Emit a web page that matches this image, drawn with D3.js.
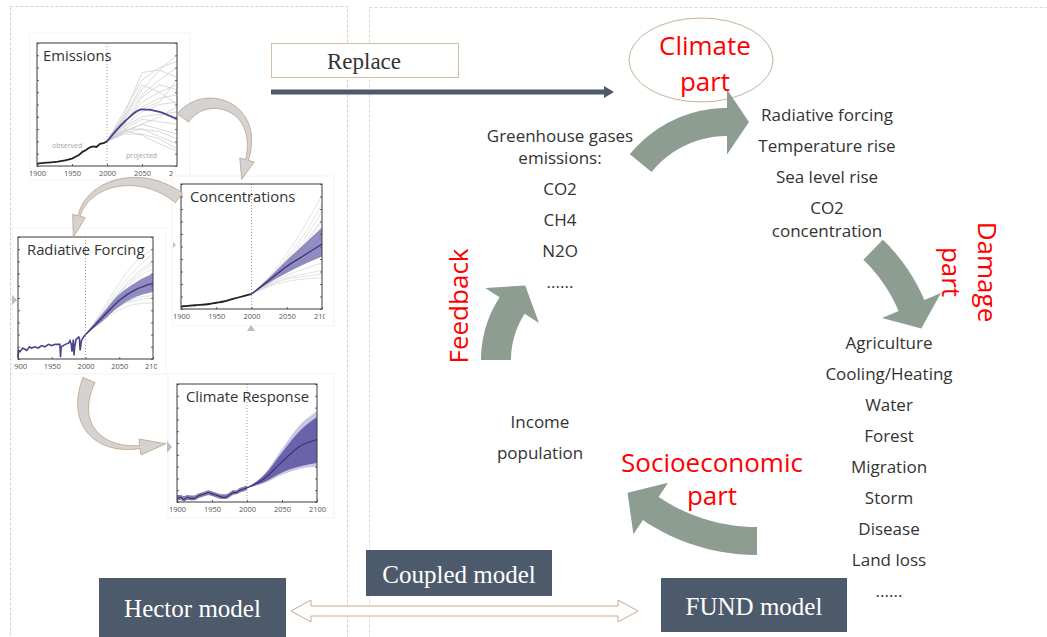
<!DOCTYPE html>
<html><head><meta charset="utf-8">
<script src="https://cdn.jsdelivr.net/npm/d3@7"></script>
<style>body{margin:0;background:#fff}svg{display:block}</style>
</head><body>
<svg id="c" width="1047" height="637"></svg>
<script>
// ---------------- DATA ----------------
const xTickVals = [1900, 1950, 2000, 2050, 2100];
const xTickLabels = ["1900", "1950", "2000", "2050", "2100"];
const projYears = [2000, 2025, 2050, 2075, 2100];

// Emissions panel (relative units 0-100)
const emObsYears = [1900, 1910, 1920, 1930, 1940, 1950, 1955, 1960, 1965, 1970, 1975, 1980, 1985, 1990, 1995, 2000];
const emObs = [2, 2.5, 3, 3.5, 4.5, 6, 7.5, 9, 11.5, 13, 15, 16, 15.5, 18, 18.5, 20];
const emMean = [20, 36, 46, 44, 38];
const emEnsemble = [
  [20, 40, 62, 78, 90], [20, 45, 70, 80, 85], [20, 42, 76, 78, 72], [20, 38, 58, 70, 80],
  [20, 35, 52, 60, 66], [20, 36, 48, 55, 58], [20, 33, 44, 50, 52], [20, 32, 40, 42, 44],
  [20, 30, 38, 36, 34], [20, 28, 34, 30, 26], [20, 30, 30, 28, 22], [20, 27, 30, 24, 18],
  [20, 26, 26, 22, 14], [20, 28, 34, 40, 48], [20, 34, 56, 66, 62], [20, 40, 66, 60, 50],
  [20, 29, 25, 18, 12], [20, 37, 46, 52, 70]
];

// Concentrations panel
const coObsYears = [1900, 1920, 1940, 1950, 1960, 1970, 1980, 1990, 2000];
const coObs = [2, 3, 4, 5, 6, 7.5, 9, 10.5, 12];
const coMean = [12, 23, 34, 43, 52];
const coLow = [12, 21, 29, 36, 42];
const coHigh = [12, 25, 39, 52, 65];
const coEnsemble = [
  [12, 26, 44, 66, 91], [12, 25, 41, 60, 84], [12, 24, 39, 56, 78], [12, 24, 37, 53, 72],
  [12, 23, 35, 49, 66], [12, 22, 33, 44, 58], [12, 22, 31, 40, 50], [12, 21, 29, 36, 43],
  [12, 20, 27, 32, 37], [12, 19, 25, 28, 31], [12, 18, 22, 24, 25], [12, 19, 24, 26, 28],
  [12, 21, 30, 38, 46], [12, 23, 36, 51, 70]
];

// Radiative forcing panel
const rfObsYears = [1900, 1901, 1903, 1907, 1910, 1913, 1917, 1920, 1925, 1930, 1935, 1940, 1945, 1950, 1955, 1960, 1962, 1963, 1964, 1967, 1970, 1975, 1977, 1979, 1980, 1982, 1983, 1984, 1986, 1990, 1991, 1992, 1994, 1997, 2000];
const rfObs = [1, 7, 6, 9, 8, 7, 10, 9, 10, 9, 11, 10, 12, 11, 12, 12, 12, 1.5, 10, 11, 12, 13, 15, 12, 6, 16, 3, 10, 16, 18, 17, 7, 15, 18, 20];
const rfMean = [20, 34, 48, 57, 62];
const rfLow = [20, 31, 43, 51, 55];
const rfHigh = [20, 37, 53, 63, 70];
const rfEnsemble = [
  [20, 40, 62, 80, 90], [20, 38, 58, 74, 86], [20, 37, 55, 70, 80], [20, 36, 53, 66, 74],
  [20, 35, 51, 62, 70], [20, 34, 49, 58, 64], [20, 33, 46, 54, 58], [20, 32, 43, 50, 52],
  [20, 31, 40, 45, 46], [20, 33, 44, 48, 50], [20, 36, 54, 68, 78], [20, 35, 50, 60, 67]
];

// Climate response panel
const crObsYears = [1900, 1905, 1910, 1915, 1920, 1925, 1930, 1935, 1940, 1945, 1950, 1955, 1960, 1965, 1970, 1975, 1980, 1985, 1990, 1995, 2000];
const crObs = [3, 4, 2, 4, 3, 3, 5, 6, 7, 8, 7, 6, 5, 4, 4, 6, 8, 8, 10, 11, 12];
const crObsLow = [1, 2, 0.5, 2, 1.5, 1.5, 3, 4, 5, 6, 5, 4, 3, 2.5, 2.5, 4, 6, 6.5, 8, 9, 10];
const crObsHigh = [6, 6, 5, 6, 5.5, 5.5, 7, 8, 9, 10, 9, 8, 7, 6.5, 6.5, 8, 10, 10, 12, 13, 14];
const crMean = [12, 20, 34, 47, 53];
const crLow = [12, 17, 25, 30, 33];
const crHigh = [12, 23, 42, 60, 72];
const crOuterLow = [12, 16, 23, 28, 30];
const crOuterHigh = [12, 24, 45, 65, 77];

// Diagram texts
const ghgLines = ["Greenhouse gases", "emissions:", "CO2", "CH4", "N2O", "......"];
const climateVars = ["Radiative forcing", "Temperature rise", "Sea level rise", "CO2", "concentration"];
const damageSectors = ["Agriculture", "Cooling/Heating", "Water", "Forest", "Migration", "Storm", "Disease", "Land loss", "......"];
const socioVars = ["Income", "population"];

// ---------------- DRAW ----------------
const svg = d3.select("#c");
const defs = svg.append("defs");
const SANS = "'Open Sans', Lato, sans-serif";
const SERIF = "'Liberation Serif', 'DejaVu Serif', serif";
const ARROW_GREEN = "#8d9d92";
const SLATE = "#4c5a6b";

// dashed panels
svg.append("rect").attr("x", 10.5).attr("y", 6.5).attr("width", 337).attr("height", 640)
  .attr("fill", "none").attr("stroke", "#e3cdb6").attr("stroke-dasharray", "3,2");
svg.append("rect").attr("x", 369.5).attr("y", 7.5).attr("width", 700).attr("height", 640)
  .attr("fill", "none").attr("stroke", "#d9d9d9").attr("stroke-dasharray", "3,2");

let clipId = 0;
function panel(cfg) {
  const g = svg.append("g");
  g.append("rect").attr("x", cfg.bg[0]).attr("y", cfg.bg[1]).attr("width", cfg.bg[2] - cfg.bg[0])
    .attr("height", cfg.bg[3] - cfg.bg[1]).attr("fill", "#fff").attr("stroke", "#f3f3f3");
  const x = d3.scaleLinear([1900, 2100], [cfg.x0, cfg.x1]);
  const y = d3.scaleLinear([0, 100], [cfg.y1, cfg.y0]);
  const id = "clip" + (clipId++);
  defs.append("clipPath").attr("id", id).append("rect")
    .attr("x", cfg.clip[0]).attr("y", cfg.y0 - 5).attr("width", cfg.clip[1] - cfg.clip[0]).attr("height", cfg.y1 - cfg.y0 + 25);
  const inner = g.append("g");
  const wrap = g.append("g").attr("clip-path", `url(#${id})`);
  const ax = wrap.append("g").attr("transform", `translate(0,${cfg.y1})`)
    .call(d3.axisBottom(x).tickValues(xTickVals).tickFormat((d, i) => xTickLabels[i]).tickSizeInner(-2).tickSizeOuter(0).tickPadding(5));
  ax.select(".domain").remove();
  ax.selectAll("line").attr("stroke", "#666");
  ax.selectAll("text").attr("font-family", SANS).attr("font-size", 7.5).attr("fill", "#555");
  const ay = g.append("g").attr("transform", `translate(${cfg.x0},0)`)
    .call(d3.axisLeft(y).ticks(10).tickSizeInner(-2).tickSizeOuter(0).tickFormat(""));
  ay.select(".domain").remove();
  ay.selectAll("line").attr("stroke", "#666");
  const ay2 = g.append("g").attr("transform", `translate(${cfg.x1},0)`)
    .call(d3.axisRight(y).ticks(10).tickSizeInner(-2).tickSizeOuter(0).tickFormat(""));
  ay2.select(".domain").remove();
  ay2.selectAll("line").attr("stroke", "#666");
  g.append("line").attr("x1", x(2000)).attr("x2", x(2000)).attr("y1", cfg.y0).attr("y2", cfg.y1)
    .attr("stroke", "#888").attr("stroke-width", 0.8).attr("stroke-dasharray", "1,2");
  return { g, inner, x, y, cfg };
}
function finishPanel(p, title, dx) {
  p.g.append("rect").attr("x", p.cfg.x0).attr("y", p.cfg.y0).attr("width", p.cfg.x1 - p.cfg.x0)
    .attr("height", p.cfg.y1 - p.cfg.y0).attr("fill", "none").attr("stroke", "#3a3a3a").attr("stroke-width", 1);
  p.g.append("text").attr("x", p.cfg.x0 + dx).attr("y", p.cfg.y0 + 18).text(title)
    .attr("font-family", SANS).attr("font-size", 14.8).attr("fill", "#333");
}
const lineOf = (p, xs, curve) => d3.line().x((d, i) => p.x(xs[i])).y(d => p.y(d)).curve(curve || d3.curveMonotoneX);
const areaOf = (p, xs, lo, hi) => d3.area().x((d, i) => p.x(xs[i])).y0((d, i) => p.y(lo[i])).y1(d => p.y(d)).curve(d3.curveMonotoneX);

// Emissions
{
  const p = panel({ x0: 37, x1: 177, y0: 43, y1: 166, clip: [30, 173], bg: [30, 33, 190, 180] });
  p.inner.selectAll(".ens").data(emEnsemble).join("path").attr("d", lineOf(p, projYears, d3.curveLinear))
    .attr("fill", "none").attr("stroke", "#c9c9c9").attr("stroke-width", 0.7);
  p.inner.append("path").datum(emMean).attr("d", lineOf(p, projYears)).attr("fill", "none").attr("stroke", "#4b4494").attr("stroke-width", 1.8);
  p.inner.append("path").datum(emObs).attr("d", lineOf(p, emObsYears, d3.curveLinear)).attr("fill", "none").attr("stroke", "#222").attr("stroke-width", 1.8);
  p.g.append("text").attr("x", 52).attr("y", 148).text("observed").attr("font-family", SANS).attr("font-size", 7).attr("fill", "#a5a5a5");
  p.g.append("text").attr("x", 126).attr("y", 158).text("projected").attr("font-family", SANS).attr("font-size", 7).attr("fill", "#a5a5a5");
  finishPanel(p, "Emissions", 6);
}
// Concentrations
{
  const p = panel({ x0: 181, x1: 322, y0: 184, y1: 309, clip: [172, 325], bg: [172, 176, 334, 326] });
  p.inner.selectAll(".ens").data(coEnsemble).join("path").attr("d", lineOf(p, projYears))
    .attr("fill", "none").attr("stroke", "#cfcfcf").attr("stroke-width", 0.6);
  p.inner.append("path").datum(coHigh).attr("d", areaOf(p, projYears, coLow, coHigh)).attr("fill", "#6e67ad").attr("opacity", 0.75);
  p.inner.append("path").datum(coMean).attr("d", lineOf(p, projYears)).attr("fill", "none").attr("stroke", "#3b3575").attr("stroke-width", 1.4);
  p.inner.append("path").datum(coObs).attr("d", lineOf(p, coObsYears)).attr("fill", "none").attr("stroke", "#222").attr("stroke-width", 1.8);
  finishPanel(p, "Concentrations", 9);
}
// Radiative forcing
{
  const p = panel({ x0: 18, x1: 153, y0: 237, y1: 359, clip: [13, 157], bg: [12, 228, 166, 374] });
  p.inner.selectAll(".ens").data(rfEnsemble).join("path").attr("d", lineOf(p, projYears))
    .attr("fill", "none").attr("stroke", "#cfcfcf").attr("stroke-width", 0.6);
  p.inner.append("path").datum(rfHigh).attr("d", areaOf(p, projYears, rfLow, rfHigh)).attr("fill", "#6e67ad").attr("opacity", 0.75);
  p.inner.append("path").datum(rfMean).attr("d", lineOf(p, projYears)).attr("fill", "none").attr("stroke", "#3b3575").attr("stroke-width", 1.4);
  p.inner.append("path").datum(rfObs).attr("d", lineOf(p, rfObsYears, d3.curveLinear)).attr("fill", "none").attr("stroke", "#4a4490").attr("stroke-width", 1.6);
  finishPanel(p, "Radiative Forcing", 9);
}
// Climate response
{
  const p = panel({ x0: 177, x1: 317, y0: 384, y1: 502, clip: [166, 332], bg: [168, 374, 334, 518] });
  p.inner.append("path").datum(crOuterHigh).attr("d", areaOf(p, projYears, crOuterLow, crOuterHigh)).attr("fill", "#a7a2cf").attr("opacity", 0.6);
  p.inner.append("path").datum(crHigh).attr("d", areaOf(p, projYears, crLow, crHigh)).attr("fill", "#5f58a6").attr("opacity", 0.9);
  p.inner.append("path").datum(crMean).attr("d", lineOf(p, projYears)).attr("fill", "none").attr("stroke", "#3a3570").attr("stroke-width", 1.2);
  p.inner.append("path").datum(crObsHigh).attr("d", areaOf(p, crObsYears, crObsLow, crObsHigh)).attr("fill", "#6a63ac").attr("opacity", 0.85);
  p.inner.append("path").datum(crObs).attr("d", lineOf(p, crObsYears, d3.curveLinear)).attr("fill", "none").attr("stroke", "#2a2a3a").attr("stroke-width", 1);
  finishPanel(p, "Climate Response", 9);
}

// small grey triangles (decorations)
const tri = (pts) => svg.append("path").attr("d", d3.line()(pts) + "Z").attr("fill", "#bdbdbd");
tri([[12, 295], [17, 300], [12, 305]]);
tri([[247, 331], [251, 325], [255, 331]]);
tri([[167, 441], [172, 447], [167, 453]]);
tri([[173, 242], [176, 245], [173, 248]]);

// ---------------- ARROW HELPERS ----------------
function arcArrowPath(cx, cy, r, t0, t1, w, hw, hl) {
  const n = 48, rad = Math.PI / 180, outer = [], inner = [];
  for (let i = 0; i <= n; i++) {
    const t = (t0 + (t1 - t0) * i / n) * rad;
    outer.push([cx + (r + w / 2) * Math.cos(t), cy + (r + w / 2) * Math.sin(t)]);
    inner.push([cx + (r - w / 2) * Math.cos(t), cy + (r - w / 2) * Math.sin(t)]);
  }
  const te = t1 * rad, s = Math.sign(t1 - t0);
  const tx = -Math.sin(te) * s, ty = Math.cos(te) * s;
  const e = [cx + r * Math.cos(te), cy + r * Math.sin(te)];
  const bo = [cx + (r + hw / 2) * Math.cos(te), cy + (r + hw / 2) * Math.sin(te)];
  const bi = [cx + (r - hw / 2) * Math.cos(te), cy + (r - hw / 2) * Math.sin(te)];
  const tip = [e[0] + hl * tx, e[1] + hl * ty];
  return d3.line()(outer.concat([bo, tip, bi], inner.reverse())) + "Z";
}
function bezArrowPath(P, w0, w1, hw, hl) {
  const n = 40, L = [], R = [];
  const pt = t => {
    const u = 1 - t;
    return [u * u * u * P[0][0] + 3 * u * u * t * P[1][0] + 3 * u * t * t * P[2][0] + t * t * t * P[3][0],
            u * u * u * P[0][1] + 3 * u * u * t * P[1][1] + 3 * u * t * t * P[2][1] + t * t * t * P[3][1]];
  };
  const tan = t => {
    const u = 1 - t;
    const dx = 3 * u * u * (P[1][0] - P[0][0]) + 6 * u * t * (P[2][0] - P[1][0]) + 3 * t * t * (P[3][0] - P[2][0]);
    const dy = 3 * u * u * (P[1][1] - P[0][1]) + 6 * u * t * (P[2][1] - P[1][1]) + 3 * t * t * (P[3][1] - P[2][1]);
    const l = Math.hypot(dx, dy);
    return [dx / l, dy / l];
  };
  for (let i = 0; i <= n; i++) {
    const t = i / n, p = pt(t), d = tan(t), w = w0 + (w1 - w0) * t;
    L.push([p[0] - d[1] * w / 2, p[1] + d[0] * w / 2]);
    R.push([p[0] + d[1] * w / 2, p[1] - d[0] * w / 2]);
  }
  const e = pt(1), d = tan(1);
  const bl = [e[0] - d[1] * hw / 2, e[1] + d[0] * hw / 2];
  const br = [e[0] + d[1] * hw / 2, e[1] - d[0] * hw / 2];
  const tip = [e[0] + d[0] * hl, e[1] + d[1] * hl];
  return d3.line()(L.concat([bl, tip, br], R.reverse())) + "Z";
}
const smallArrow = (P, w0, w1, hw, hl) => svg.append("path").attr("d", bezArrowPath(P, w0, w1, hw, hl))
  .attr("fill", "#d3d3d3").attr("stroke", "#c29f7a").attr("stroke-width", 0.8).attr("stroke-linejoin", "round");

// left curved arrows
smallArrow([[183, 118], [205, 88], [262, 105], [247, 160]], 14, 3, 15, 20);
smallArrow([[179, 198], [140, 168], [88, 182], [79, 216]], 12, 2, 13, 22);
smallArrow([[89, 380], [70, 425], [100, 452], [140, 447]], 13, 3, 16, 26);

// Replace box and arrow
svg.append("rect").attr("x", 271.5).attr("y", 43.5).attr("width", 187).attr("height", 34)
  .attr("fill", "#fff").attr("stroke", "#d4bfa6").attr("stroke-width", 1);
svg.append("text").attr("x", 364).attr("y", 69).attr("text-anchor", "middle").text("Replace")
  .attr("font-family", SERIF).attr("font-size", 23).attr("fill", "#333");
svg.append("line").attr("x1", 271).attr("x2", 606).attr("y1", 92).attr("y2", 92).attr("stroke", SLATE).attr("stroke-width", 5);
svg.append("path").attr("d", d3.line()([[604, 86], [614, 92], [604, 98]]) + "Z").attr("fill", SLATE);

// climate ellipse
svg.append("ellipse").attr("cx", 701).attr("cy", 60).attr("rx", 72).attr("ry", 42)
  .attr("fill", "none").attr("stroke", "#c9b199").attr("stroke-width", 1);

// big cycle arrows
const bigArrow = (cx, cy, r, t0, t1, w, hw, hl) => svg.append("path")
  .attr("d", arcArrowPath(cx, cy, r, t0, t1, w, hw, hl)).attr("fill", ARROW_GREEN);
bigArrow(727, 233, 111, -141, -90, 28, 65, 22);   // climate
bigArrow(755, 372, 170, -46, -23, 28, 64, 25);    // damage
bigArrow(757, 351, 190, 90, 124, 28, 62, 28);     // socioeconomic
bigArrow(596, 360, 100, -180, -147, 30, 64, 24);  // feedback

// text lists
const txt = (x, y, s, size, fill, anchor) => svg.append("text").attr("x", x).attr("y", y).text(s)
  .attr("font-family", SANS).attr("font-size", size).attr("fill", fill).attr("text-anchor", anchor || "middle");
const ghgY = [142, 164, 195, 226, 257, 288];
ghgLines.forEach((s, i) => txt(560, ghgY[i], s, 17, "#333"));
const cvY = [121, 152, 183, 214, 237];
climateVars.forEach((s, i) => txt(827, cvY[i], s, 17, "#333"));
damageSectors.forEach((s, i) => txt(889, 349 + 31 * i, s, 17, "#333"));
const sY = [428, 459];
socioVars.forEach((s, i) => txt(540, sY[i], s, 17, "#333"));

// red labels
const RED = "#ff0000";
txt(705, 55, "Climate", 26, RED);
txt(705, 91, "part", 26, RED);
txt(712, 472, "Socioeconomic", 26, RED);
txt(712, 505, "part", 26, RED);
svg.append("text").attr("transform", "translate(468,306) rotate(-90)").attr("text-anchor", "middle")
  .text("Feedback").attr("font-family", SANS).attr("font-size", 26).attr("fill", RED);
svg.append("text").attr("transform", "translate(978,272) rotate(90)").attr("text-anchor", "middle")
  .text("Damage").attr("font-family", SANS).attr("font-size", 26).attr("fill", RED);
svg.append("text").attr("transform", "translate(942,272) rotate(90)").attr("text-anchor", "middle")
  .text("part").attr("font-family", SANS).attr("font-size", 26).attr("fill", RED);

// hollow double arrow
svg.append("path").attr("d", d3.line()([[291, 611], [311, 600], [311, 606], [618, 606], [618, 600], [638, 611],
  [618, 622], [618, 616], [311, 616], [311, 622]]) + "Z")
  .attr("fill", "#fff").attr("stroke", "#c9ab8c").attr("stroke-width", 1);

// model boxes
const box = (x0, y0, x1, y1, s, ty) => {
  svg.append("rect").attr("x", x0).attr("y", y0).attr("width", x1 - x0).attr("height", y1 - y0).attr("fill", SLATE);
  svg.append("text").attr("x", (x0 + x1) / 2).attr("y", ty).attr("text-anchor", "middle").text(s)
    .attr("font-family", SERIF).attr("font-size", 25).attr("fill", "#fff");
};
box(366, 550, 552, 596, "Coupled model", 583);
box(661, 578, 847, 632, "FUND model", 615);
box(99, 578, 286, 640, "Hector model", 617);
</script>
</body></html>
